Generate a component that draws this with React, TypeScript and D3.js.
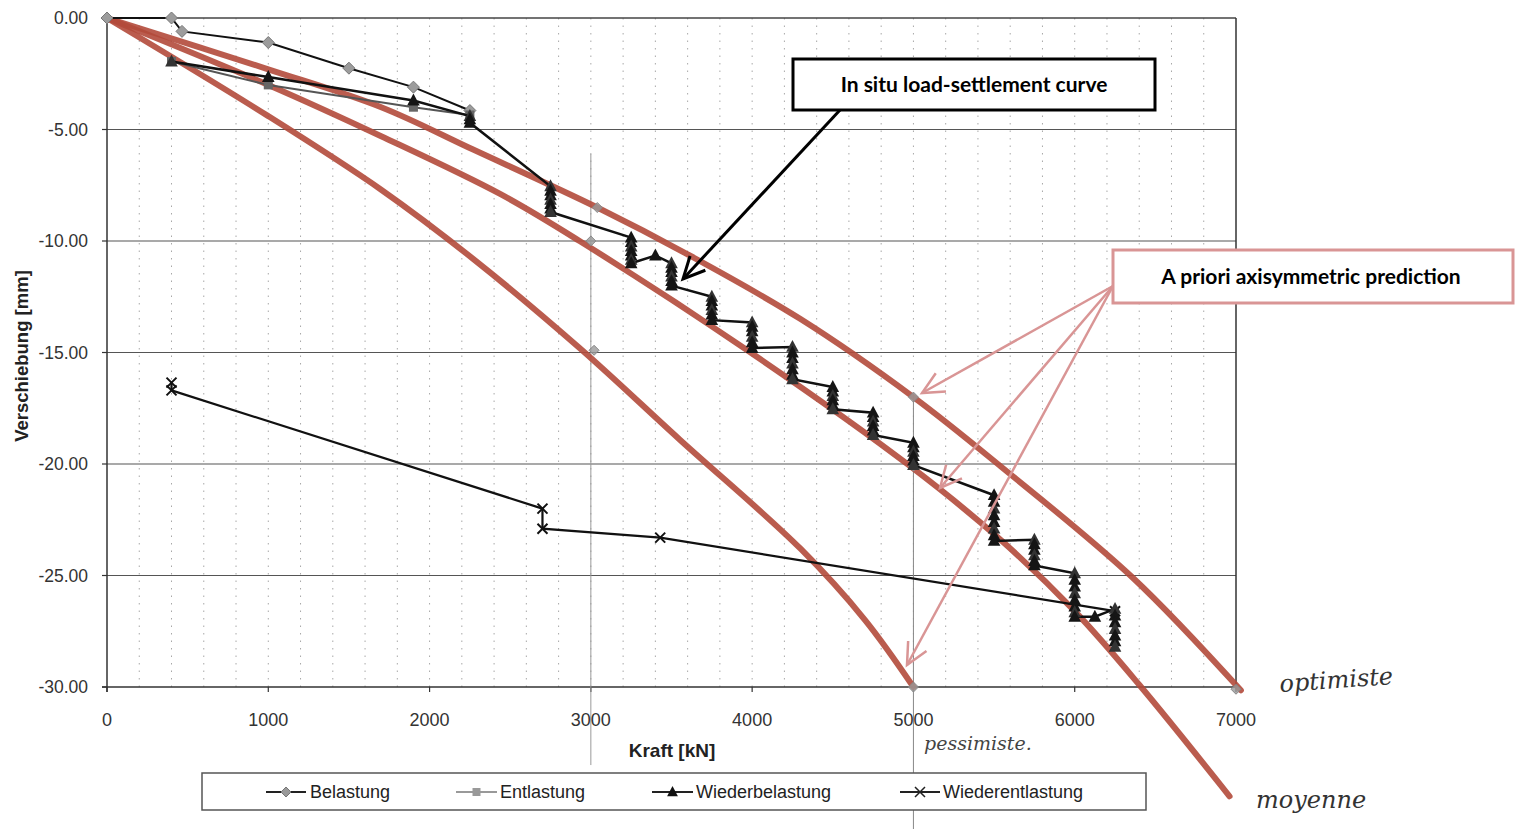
import React from "react";
import * as d3 from "d3";

// ---------- data (kN, mm) ----------
const xTicks = [0, 1000, 2000, 3000, 4000, 5000, 6000, 7000];
const yTicks = [0, -5, -10, -15, -20, -25, -30];

const belastungLoad = [0, 400, 465, 1000, 1500, 1900, 2250];
const belastungDisp = [0, 0, -0.6, -1.1, -2.25, -3.1, -4.15];

const entlastungLoad = [2250, 1900, 1000, 400];
const entlastungDisp = [-4.35, -4.0, -3.0, -1.95];

const wbLoads = [400, 1000, 1900, 2250, 2750, 3250, 3400, 3500, 3750, 4000, 4250, 4500, 4750, 5000, 5500, 5750, 6000, 6125, 6250];
const wbReadings = [
  [-1.95],
  [-2.65],
  [-3.7],
  [-4.4, -4.55, -4.7],
  [-7.55, -7.75, -7.95, -8.15, -8.35, -8.55, -8.7],
  [-9.85, -10.05, -10.25, -10.45, -10.65, -10.85, -11.0],
  [-10.65],
  [-11.0, -11.2, -11.4, -11.6, -11.8, -12.0],
  [-12.5, -12.7, -12.9, -13.1, -13.3, -13.55],
  [-13.65, -13.85, -14.05, -14.3, -14.55, -14.8],
  [-14.75, -15.0, -15.25, -15.5, -15.75, -16.0, -16.2],
  [-16.55, -16.75, -16.95, -17.15, -17.35, -17.55],
  [-17.7, -17.9, -18.1, -18.3, -18.5, -18.7],
  [-19.05, -19.25, -19.45, -19.65, -19.85, -20.05],
  [-21.4, -21.7, -22.0, -22.3, -22.6, -22.9, -23.2, -23.45],
  [-23.4, -23.6, -23.85, -24.1, -24.35, -24.55],
  [-24.9, -25.2, -25.5, -25.8, -26.1, -26.4, -26.65, -26.85],
  [-26.85],
  [-26.5, -26.8, -27.1, -27.4, -27.7, -27.95, -28.2],
];

const weLoad = [6250, 3430, 2700, 2700, 400, 400];
const weDisp = [-26.6, -23.3, -22.9, -22.0, -16.7, -16.35];

// a priori predictions (hand-drawn curves)
const optimisteLoad = [0, 1000, 1700, 2270, 3040, 3600, 4300, 5000, 5540, 6360, 7030];
const optimisteDisp = [0, -2.3, -4.0, -5.9, -8.5, -10.6, -13.5, -17.0, -20.1, -25.1, -30.15];
const moyenneLoad = [0, 1000, 1700, 2440, 2930, 3970, 4980, 5540, 6000, 6400, 6960];
const moyenneDisp = [0, -3.0, -5.3, -7.9, -10.0, -14.9, -20.1, -23.4, -26.6, -29.9, -34.9];
const pessimisteLoad = [0, 1000, 1700, 2270, 2930, 3550, 4300, 4700, 5000];
const pessimisteDisp = [0, -4.4, -7.7, -10.8, -14.8, -18.9, -23.8, -27.0, -30.0];

const curveMarkLoad = [3040, 3000, 3020, 5000, 5000, 5000, 7000];
const curveMarkDisp = [-8.5, -10.0, -14.9, -17.0, -20.1, -30.0, -30.1];

const legendLabels = ["Belastung", "Entlastung", "Wiederbelastung", "Wiederentlastung"];

// ---------- layout ----------
const W = 1521, H = 829;
const x = d3.scaleLinear().domain([0, 7000]).range([107, 1236]);
const y = d3.scaleLinear().domain([0, -30]).range([18, 687]);

const lineGen = d3.line<[number, number]>().x((d) => x(d[0])).y((d) => y(d[1]));
const curveGen = d3
  .line<[number, number]>()
  .x((d) => x(d[0]))
  .y((d) => y(d[1]))
  .curve(d3.curveCatmullRom.alpha(0.5));

const zip = (a: number[], b: number[]) => a.map((v, i) => [v, b[i]] as [number, number]);

const wbPts: [number, number][] = [];
wbLoads.forEach((l, i) => wbReadings[i].forEach((v) => wbPts.push([l, v])));

const diamond = (cx: number, cy: number, r: number) =>
  `M${cx},${cy - r}L${cx + r},${cy}L${cx},${cy + r}L${cx - r},${cy}Z`;
const tri = (cx: number, cy: number, r: number) =>
  `M${cx},${cy - r}L${cx + r * 0.9},${cy + r * 0.7}L${cx - r * 0.9},${cy + r * 0.7}Z`;
const cross = (cx: number, cy: number, r: number) =>
  `M${cx - r},${cy - r}L${cx + r},${cy + r}M${cx + r},${cy - r}L${cx - r},${cy + r}`;

const vGrid = d3.range(200, 7000, 200);

export default function App() {
  const font = "'Liberation Sans', Arial, sans-serif";
  const RED = "#b24a3b";
  const PINK = "#d99595";
  const boxFont = "Lato, 'Open Sans', sans-serif";

  const arrowHead = (tx: number, ty: number, fx: number, fy: number, len: number) => {
    const a = Math.atan2(ty - fy, tx - fx);
    const s = 0.45;
    const p1 = [tx - len * Math.cos(a - s), ty - len * Math.sin(a - s)];
    const p2 = [tx - len * Math.cos(a + s), ty - len * Math.sin(a + s)];
    return `M${p1[0]},${p1[1]}L${tx},${ty}L${p2[0]},${p2[1]}`;
  };

  const pinkStart = [1113, 286];
  const pinkTargets: [number, number][] = [
    [922, 393],
    [940, 488],
    [907, 665],
  ];

  const legendItems = [
    { x0: 266, x1: 306, tx: 310, kind: "b" },
    { x0: 456, x1: 497, tx: 500, kind: "e" },
    { x0: 652, x1: 693, tx: 696, kind: "wb" },
    { x0: 900, x1: 940, tx: 943, kind: "we" },
  ];

  return (
    <svg
      width={W}
      height={H}
      style={{ position: "absolute", left: 0, top: 0, background: "#fff" }}
      fontFamily={font}
    >
      <rect width={W} height={H} fill="#fff" />

      {/* dotted vertical grid */}
      {vGrid.map((v) => (
        <line key={"vg" + v} x1={x(v)} x2={x(v)} y1={y(0)} y2={y(-30)} stroke="#a8a8a8" strokeWidth={1} strokeDasharray="1.5,6" />
      ))}
      {/* horizontal grid */}
      {yTicks.slice(1, -1).map((t) => (
        <line key={"hg" + t} x1={x(0)} x2={x(7000)} y1={y(t)} y2={y(t)} stroke="#555" strokeWidth={1.2} />
      ))}
      {/* frame */}
      <line x1={x(0) - 5} x2={x(7000)} y1={y(0)} y2={y(0)} stroke="#444" strokeWidth={1.5} />
      <line x1={x(0) - 5} x2={x(7000)} y1={y(-30)} y2={y(-30)} stroke="#333" strokeWidth={1.5} />
      <line x1={x(0)} x2={x(0)} y1={y(0)} y2={y(-30) + 5} stroke="#333" strokeWidth={1.5} />
      <line x1={x(7000)} x2={x(7000)} y1={y(0)} y2={y(-30)} stroke="#333" strokeWidth={1.5} />
      {yTicks.map((t) => (
        <line key={"yt" + t} x1={x(0) - 5} x2={x(0)} y1={y(t)} y2={y(t)} stroke="#333" strokeWidth={1.2} />
      ))}
      {xTicks.map((t) => (
        <line key={"xt" + t} x1={x(t)} x2={x(t)} y1={y(-30)} y2={y(-30) + 5} stroke="#333" strokeWidth={1.2} />
      ))}

      {/* hand-drawn reading lines */}
      <line x1={x(3000)} x2={x(3000)} y1={y(-6.1)} y2={y(-33.5)} stroke="#999" strokeWidth={1} />
      <line x1={x(5000)} x2={x(5000)} y1={y(-16.9)} y2={H} stroke="#888" strokeWidth={1} />

      {/* tick labels */}
      {yTicks.map((t) => (
        <text key={"yl" + t} x={88} y={y(t)} dy="0.35em" textAnchor="end" fontSize={17.5} fill="#333">
          {t.toFixed(2)}
        </text>
      ))}
      {xTicks.map((t) => (
        <text key={"xl" + t} x={x(t)} y={726} textAnchor="middle" fontSize={18} fill="#333">
          {t}
        </text>
      ))}
      <text x={672} y={757} textAnchor="middle" fontSize={19} fontWeight="bold" fill="#222">
        Kraft [kN]
      </text>
      <text transform="translate(28,356) rotate(-90)" textAnchor="middle" fontSize={18.5} fontWeight="bold" fill="#222">
        Verschiebung [mm]
      </text>

      {/* prediction curves */}
      {[zip(optimisteLoad, optimisteDisp), zip(moyenneLoad, moyenneDisp), zip(pessimisteLoad, pessimisteDisp)].map((c, i) => (
        <path key={"c" + i} d={curveGen(c) || ""} fill="none" stroke={RED} strokeWidth={6} strokeOpacity={0.9} strokeLinecap="round" />
      ))}
      {zip(curveMarkLoad, curveMarkDisp).map((p, i) => (
        <path key={"cm" + i} d={diamond(x(p[0]), y(p[1]), 5)} fill="#9a9a9a" fillOpacity={0.8} stroke="#888" />
      ))}

      {/* Belastung */}
      <path d={lineGen(zip(belastungLoad, belastungDisp)) || ""} fill="none" stroke="#111" strokeWidth={2} />
      {zip(belastungLoad, belastungDisp).map((p, i) => (
        <path key={"b" + i} d={diamond(x(p[0]), y(p[1]), 6)} fill="#9c9c9c" stroke="#777" strokeWidth={1} />
      ))}

      {/* Entlastung */}
      <path d={lineGen(zip(entlastungLoad, entlastungDisp)) || ""} fill="none" stroke="#555" strokeWidth={2} />
      {zip(entlastungLoad, entlastungDisp).map((p, i) => (
        <rect key={"e" + i} x={x(p[0]) - 4.5} y={y(p[1]) - 4.5} width={9} height={9} fill="#666" />
      ))}

      {/* Wiederentlastung */}
      <path d={lineGen(zip(weLoad, weDisp)) || ""} fill="none" stroke="#111" strokeWidth={2.2} />
      {zip(weLoad, weDisp).map((p, i) => (
        <path key={"we" + i} d={cross(x(p[0]), y(p[1]), 5)} fill="none" stroke="#111" strokeWidth={2} />
      ))}

      {/* Wiederbelastung */}
      <path d={lineGen(wbPts) || ""} fill="none" stroke="#111" strokeWidth={2.5} />
      {wbPts.map((p, i) => (
        <path key={"wb" + i} d={tri(x(p[0]), y(p[1]), 7)} fill={i % 3 === 0 ? "#333" : "#151515"} />
      ))}

      {/* legend */}
      <rect x={202} y={773} width={944} height={37} fill="#fff" stroke="#555" strokeWidth={1.5} />
      {legendItems.map((it, i) => {
        const cx = (it.x0 + it.x1) / 2;
        const cy = 792;
        return (
          <g key={"lg" + i}>
            <line x1={it.x0} x2={it.x1} y1={cy} y2={cy} stroke={it.kind === "e" ? "#999" : "#222"} strokeWidth={2} />
            {it.kind === "b" && <path d={diamond(cx, cy, 5)} fill="#999" stroke="#777" />}
            {it.kind === "e" && <rect x={cx - 4} y={cy - 4} width={8} height={8} fill="#999" />}
            {it.kind === "wb" && <path d={tri(cx, cy, 6)} fill="#111" />}
            {it.kind === "we" && <path d={cross(cx, cy, 5)} stroke="#222" strokeWidth={1.5} />}
            <text x={it.tx} y={cy} dy="0.35em" fontSize={18} fill="#222">
              {legendLabels[i]}
            </text>
          </g>
        );
      })}

      {/* annotation: in situ */}
      <line x1={840} y1={110} x2={683} y2={279} stroke="#000" strokeWidth={3} />
      <path d={arrowHead(683, 279, 840, 110, 24)} fill="none" stroke="#000" strokeWidth={3} />
      <rect x={793} y={59} width={362} height={51} fill="#fff" stroke="#000" strokeWidth={3} />
      <text x={974} y={85} dy="0.35em" textAnchor="middle" fontFamily={boxFont} fontWeight="bold" fontSize={21} fill="#000">
        In situ load-settlement curve
      </text>

      {/* annotation: prediction */}
      {pinkTargets.map((t, i) => (
        <g key={"pa" + i}>
          <line x1={pinkStart[0]} y1={pinkStart[1]} x2={t[0]} y2={t[1]} stroke={PINK} strokeWidth={2.5} />
          <path d={arrowHead(t[0], t[1], pinkStart[0], pinkStart[1], 24)} fill="none" stroke={PINK} strokeWidth={2.5} />
        </g>
      ))}
      <rect x={1113} y={250} width={400} height={53} fill="#fff" stroke={PINK} strokeWidth={3} />
      <text x={1311} y={277} dy="0.35em" textAnchor="middle" fontFamily={boxFont} fontWeight="bold" fontSize={21} fill="#000">
        A priori axisymmetric prediction
      </text>

      {/* handwritten notes */}
      <text x={1280} y={692} fontFamily="'DejaVu Serif', serif" fontStyle="italic" fontSize={24} fill="#333" transform="rotate(-4,1280,692)">
        optimiste
      </text>
      <text x={1256} y={808} fontFamily="'DejaVu Serif', serif" fontStyle="italic" fontSize={24} fill="#333">
        moyenne
      </text>
      <text x={924} y={750} fontFamily="'DejaVu Serif', serif" fontStyle="italic" fontSize={19} fill="#444">
        pessimiste.
      </text>
    </svg>
  );
}
